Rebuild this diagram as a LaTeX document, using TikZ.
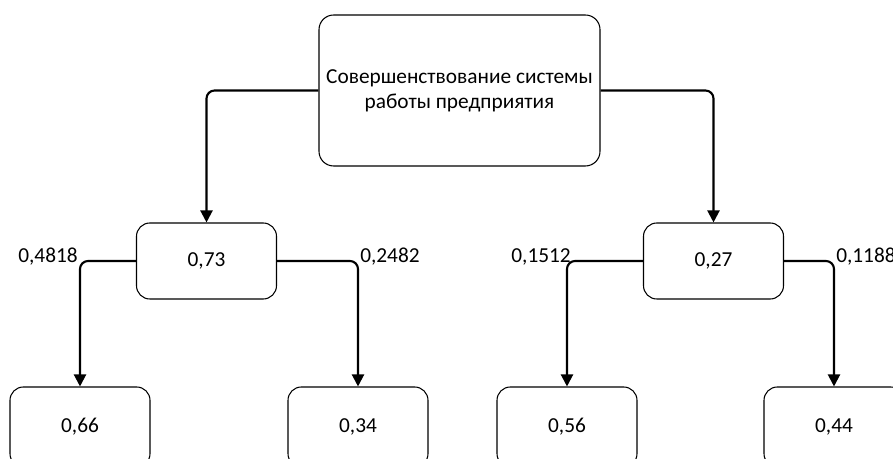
\documentclass[tikz,border=0pt]{standalone}
\usepackage{fontspec}
\setmainfont{Carlito}
\usetikzlibrary{arrows.meta}
\begin{document}
\begin{tikzpicture}[x=0.75pt,y=-0.75pt,
  box/.style={draw,line width=0.8pt,rounded corners=10pt,inner sep=0pt,
    font=\fontsize{16}{19}\selectfont,align=center},
  topbox/.style={box,minimum width=210.75pt,minimum height=113.25pt,rounded corners=11pt},
  midbox/.style={box,minimum width=105pt,minimum height=57pt},
  leafbox/.style={box,minimum width=105pt,minimum height=60pt},
  link/.style={line width=1.6pt,rounded corners=6pt,
    -{Triangle[length=9pt,width=9pt]}},
  lbl/.style={inner sep=0pt,font=\fontsize{16}{18}\selectfont}]
\useasboundingbox (0,0) rectangle (893,459);
\clip (0,0) rectangle (893,459);

% tree nodes
\node[topbox] (root) at (459.5,90.5) {Совершенствование системы\\работы предприятия};
\node[midbox] (m1) at (206.5,261) {0,73};
\node[midbox] (m2) at (713.5,261) {0,27};
\node[leafbox] (b1) at (80,427) {0,66};
\node[leafbox] (b2) at (358,427) {0,34};
\node[leafbox] (b3) at (567,427) {0,56};
\node[leafbox] (b4) at (834,427) {0,44};

% connectors
\draw[link] (root.west) -| (m1.north);
\draw[link] (root.east) -| (m2.north);
\draw[link] (m1.west) -| (b1.north);
\draw[link] (m1.east) -| (b2.north);
\draw[link] (m2.west) -| (b3.north);
\draw[link] (m2.east) -| (b4.north);

% branch weights
\node[lbl,anchor=base east] (w1) at (78,263) {0,4818};
\node[lbl,anchor=base west] (w2) at (360,263) {0,2482};
\node[lbl,anchor=base east] (w3) at (571,263) {0,1512};
\node[lbl,anchor=base west] (w4) at (836,263) {0,1188};
\end{tikzpicture}
\end{document}
